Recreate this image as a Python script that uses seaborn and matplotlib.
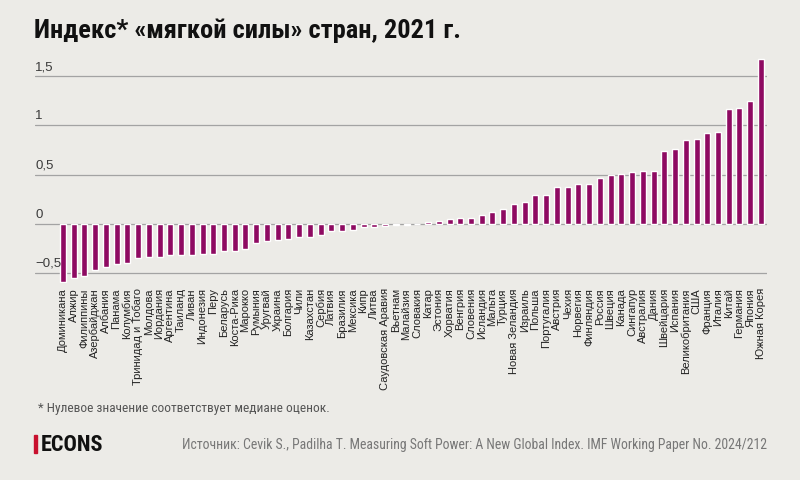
import matplotlib
matplotlib.use("Agg")
import matplotlib.pyplot as plt
import seaborn as sns
from matplotlib.patches import Rectangle

countries = [
    "Доминикана", "Алжир", "Филиппины", "Азербайджан", "Албания", "Панама",
    "Колумбия", "Тринидад и Тобаго", "Молдова", "Иордания", "Аргентина",
    "Таиланд", "Ливан", "Индонезия", "Перу", "Беларусь", "Коста-Рика",
    "Марокко", "Румыния", "Уругвай", "Украина", "Болгария", "Чили",
    "Казахстан", "Сербия", "Латвия", "Бразилия", "Мексика", "Кипр", "Литва",
    "Саудовская Аравия", "Вьетнам", "Малайзия", "Словакия", "Катар",
    "Эстония", "Хорватия", "Венгрия", "Словения", "Исландия", "Мальта",
    "Турция", "Новая Зеландия", "Израиль", "Польша", "Португалия", "Австрия",
    "Чехия", "Норвегия", "Финляндия", "Россия", "Швеция", "Канада",
    "Сингапур", "Австралия", "Дания", "Швейцария", "Испания",
    "Великобритания", "США", "Франция", "Италия", "Китай", "Германия",
    "Япония", "Южная Корея",
]
index_values = [
    -0.585, -0.553, -0.525, -0.472, -0.442, -0.412, -0.400, -0.342, -0.340,
    -0.331, -0.318, -0.316, -0.315, -0.304, -0.302, -0.274, -0.272, -0.250,
    -0.192, -0.178, -0.168, -0.158, -0.134, -0.128, -0.117, -0.074, -0.072,
    -0.060, -0.034, -0.032, -0.017, -0.007, -0.006, -0.003, 0.018, 0.028,
    0.048, 0.062, 0.065, 0.089, 0.120, 0.148, 0.205, 0.222, 0.290, 0.290,
    0.372, 0.378, 0.402, 0.410, 0.467, 0.492, 0.506, 0.527, 0.534, 0.538,
    0.736, 0.760, 0.856, 0.866, 0.920, 0.933, 1.170, 1.180, 1.244, 1.680,
]
y_ticks = [-0.5, 0, 0.5, 1, 1.5]
y_tick_labels = ["\u22120,5", "0", "0,5", "1", "1,5"]

bg = "#ECEBE7"
bar_color = "#8E0A62"
narrow = ["Liberation Sans Narrow", "Roboto Condensed", "Liberation Sans"]

sns.set_style("white")
plt.rcParams["font.family"] = ["Liberation Sans", "DejaVu Sans"]

fig = plt.figure(figsize=(8, 4.81), dpi=100, facecolor=bg)
ax = fig.add_axes([0.044, 0.4096, 0.915, 0.4748])
ax.set_facecolor(bg)

sns.barplot(x=countries, y=index_values, color=bar_color, width=0.56,
            saturation=1, ax=ax, zorder=3)

ax.set_xlim(-2.58, 65.58)
ax.set_ylim(-0.6, 1.72)
ax.set_yticks(y_ticks)
ax.yaxis.grid(True, color="#a3a3a3", lw=0.9, zorder=0)
ax.xaxis.grid(False)
ax.tick_params(axis="y", length=0, labelleft=False)
ax.tick_params(axis="x", length=0, pad=3)
ax.set_xticks(range(len(countries)))
ax.set_xticklabels(countries, rotation=90, fontsize=8, color="#222222",
                   ha="center", va="top")
for s in ax.spines.values():
    s.set_visible(False)

## tick labels sit above the grid lines on the left
for val, lab in zip(y_ticks, y_tick_labels):
    ax.annotate(lab, xy=(0, val), xycoords=ax.get_yaxis_transform(),
                xytext=(0, 3), textcoords="offset points",
                ha="left", va="bottom", fontsize=9.5, color="#3a3a3a")

fig.text(0.043, 0.937, "Индекс* «мягкой силы» стран, 2021 г.",
         family=narrow, fontsize=19, weight="bold", color="#111111",
         va="center", ha="left")

fig.text(0.047, 0.151, "* Нулевое значение соответствует медиане оценок.",
         family=narrow, fontsize=9.6, color="#555555", va="center", ha="left")

fig.patches.append(Rectangle((0.043, 0.057), 0.0028, 0.036,
                             transform=fig.transFigure, color="#C8102E"))
fig.text(0.051, 0.075, "ECONS", family=narrow, fontsize=16, weight="bold",
         color="#111111", va="center", ha="left")
fig.text(0.228, 0.075,
         "Источник: Cevik S., Padilha T. Measuring Soft Power: A New Global Index. "
         "IMF Working Paper No. 2024/212",
         family=narrow, fontsize=9.9, color="#777777", va="center", ha="left")

fig.savefig("out.png", dpi=100, facecolor=bg)
